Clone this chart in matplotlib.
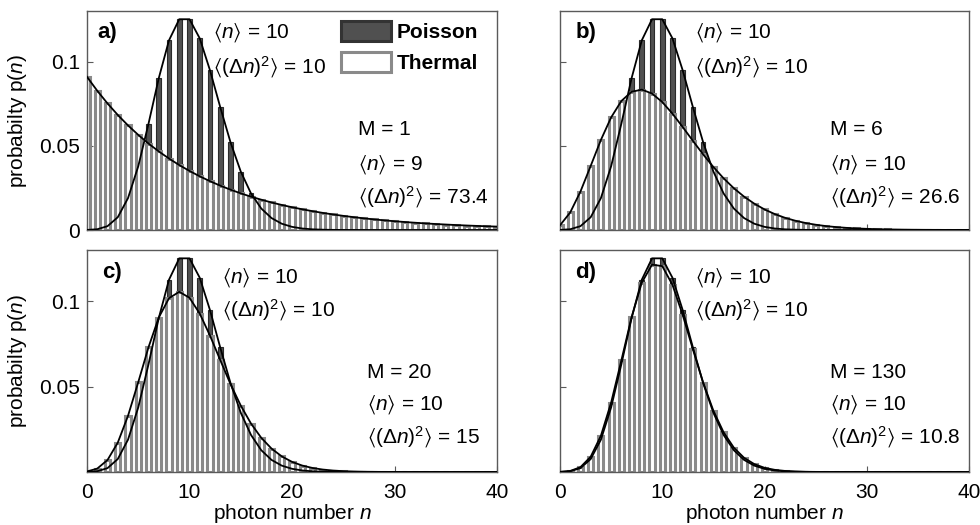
import numpy as np
import matplotlib
matplotlib.use("Agg")
import matplotlib.pyplot as plt
from matplotlib.patches import Patch

plt.rcParams["font.family"] = ["Liberation Sans", "DejaVu Sans"]
plt.rcParams["mathtext.fontset"] = "custom"
plt.rcParams["mathtext.rm"] = "Liberation Sans"
plt.rcParams["mathtext.it"] = "Liberation Sans:italic"
plt.rcParams["mathtext.fallback"] = "stixsans"

n = np.arange(41)

# Poisson, <n> = 10
poisson = [0.00005, 0.00045, 0.00227, 0.00757, 0.01892, 0.03783, 0.06306, 0.09008,
           0.11260, 0.12511, 0.12511, 0.11374, 0.09478, 0.07291, 0.05208, 0.03472,
           0.02170, 0.01276, 0.00709, 0.00373, 0.00187, 0.00089, 0.00040, 0.00018,
           0.00007, 0.00003, 0.00001, 0, 0, 0, 0, 0, 0, 0, 0, 0, 0, 0, 0, 0, 0]

# thermal, M = 1
thermal_m1 = [0.09091, 0.08265, 0.07513, 0.06830, 0.06209, 0.05645, 0.05132, 0.04665,
              0.04241, 0.03855, 0.03505, 0.03186, 0.02897, 0.02633, 0.02394, 0.02176,
              0.01978, 0.01799, 0.01635, 0.01486, 0.01351, 0.01229, 0.01117, 0.01015,
              0.00923, 0.00839, 0.00763, 0.00693, 0.00630, 0.00573, 0.00521, 0.00474,
              0.00431, 0.00391, 0.00356, 0.00324, 0.00294, 0.00267, 0.00243, 0.00221,
              0.00201]

# thermal, M = 6
thermal_m6 = [0.00278, 0.01043, 0.02281, 0.03802, 0.05346, 0.06683, 0.07658, 0.08205,
              0.08333, 0.08101, 0.07595, 0.06905, 0.06113, 0.05290, 0.04487, 0.03740,
              0.03068, 0.02481, 0.01981, 0.01564, 0.01222, 0.00946, 0.00725, 0.00552,
              0.00417, 0.00313, 0.00233, 0.00173, 0.00127, 0.00093, 0.00068, 0.00049,
              0.00036, 0.00026, 0.00018, 0.00013, 0.00009, 0.00007, 0.00005, 0.00003,
              0.00002]

# thermal, M = 20
thermal_m20 = [0.00030, 0.00200, 0.00702, 0.01715, 0.03288, 0.05260, 0.07306, 0.09045,
               0.10176, 0.10553, 0.10201, 0.09274, 0.07986, 0.06552, 0.05148, 0.03890,
               0.02836, 0.02002, 0.01372, 0.00915, 0.00594, 0.00377, 0.00235, 0.00143,
               0.00085, 0.00050, 0.00029, 0.00016, 0.00009, 0.00005, 0.00003, 0.00001,
               0.00001, 0, 0, 0, 0, 0, 0, 0, 0]

# thermal, M = 130
thermal_m130 = [0.00007, 0.00061, 0.00284, 0.00894, 0.02123, 0.04064, 0.06531, 0.09064,
                0.11087, 0.12143, 0.12056, 0.10960, 0.09199, 0.07177, 0.05236, 0.03591,
                0.02324, 0.01426, 0.00832, 0.00463, 0.00246, 0.00126, 0.00062, 0.00029,
                0.00013, 0.00006, 0.00002, 0.00001, 0, 0, 0, 0, 0, 0, 0, 0, 0, 0, 0, 0, 0]

panels = [
    ("a)", thermal_m1, "M = 1", "9", "73.4"),
    ("b)", thermal_m6, "M = 6", "10", "26.6"),
    ("c)", thermal_m20, "M = 20", "10", "15"),
    ("d)", thermal_m130, "M = 130", "10", "10.8"),
]

POIS_FACE = "#505050"
POIS_EDGE = "#2a2a2a"
TH_EDGE = "#8a8a8a"
FRAME = "#5a5a5a"
FS = 15

MEAN = "$\\langle n\\rangle$ = "
VAR = "$\\langle(\\Delta n)^{2}\\rangle$ = "

fig = plt.figure(figsize=(9.8, 5.25), dpi=100)
W, H = 980.0, 525.0
boxes = [(87, 11, 497, 230), (560, 11, 969, 230),
         (87, 250, 497, 472), (560, 250, 969, 472)]

for i, (label, thermal, mtxt, mean_txt, var_txt) in enumerate(panels):
    x0, y0, x1, y1 = boxes[i]
    ax = fig.add_axes([x0 / W, 1 - y1 / H, (x1 - x0) / W, (y1 - y0) / H])

    ax.bar(n, poisson, width=0.45, color=POIS_FACE, edgecolor=POIS_EDGE, linewidth=0.8, zorder=1)
    ax.bar(n, thermal, width=0.5, color="white", edgecolor=TH_EDGE, linewidth=2.2, zorder=2)
    ax.plot(n, poisson, color="black", lw=1.3, zorder=3)
    ax.plot(n, thermal, color="black", lw=1.3, zorder=3)

    ax.set_xlim(0, 40)
    ax.set_ylim(0, 0.13)
    ax.tick_params(direction="in", labelsize=FS, color=FRAME, length=4, pad=5)
    ax.tick_params(axis="x", pad=8)
    for s in ax.spines.values():
        s.set_color(FRAME)
        s.set_linewidth(1.0)

    ax.set_xticks([0, 10, 20, 30, 40])
    if i < 2:
        ax.set_xticklabels([])
    else:
        ax.set_xlabel(r"photon number $n$", fontsize=FS, labelpad=0)
    if i % 2 == 0:
        if i == 0:
            ax.set_yticks([0, 0.05, 0.1])
            ax.set_yticklabels(["0", "0.05", "0.1"])
        else:
            ax.set_yticks([0.05, 0.1])
            ax.set_yticklabels(["0.05", "0.1"])
        ax.set_ylabel(r"probabilty p($n$)", fontsize=FS, labelpad=7)
    else:
        ax.set_yticks([0.05, 0.1])
        ax.set_yticklabels([])

    lx = 0.025 if i == 0 else 0.037
    ax.text(lx, 0.90, label, transform=ax.transAxes, fontsize=16,
            fontweight="bold", va="center")
    tx = 0.308 if i == 0 else 0.33
    top_y = (0.90, 0.745) if i < 2 else (0.874, 0.73)
    ax.text(tx, top_y[0], MEAN + "10", transform=ax.transAxes,
            fontsize=FS, va="center")
    ax.text(tx, top_y[1], VAR + "10", transform=ax.transAxes,
            fontsize=FS, va="center")

    mx = 0.683 if i == 2 else 0.66
    my = (0.457, 0.297, 0.151) if i < 2 else (0.446, 0.306, 0.158)
    ax.text(mx, my[0], mtxt, transform=ax.transAxes, fontsize=FS, va="center")
    ax.text(mx, my[1], MEAN + mean_txt, transform=ax.transAxes,
            fontsize=FS, va="center")
    ax.text(mx, my[2], VAR + var_txt, transform=ax.transAxes,
            fontsize=FS, va="center")

    if i == 0:
        handles = [Patch(facecolor=POIS_FACE, edgecolor="#333333", linewidth=2.2, label="Poisson"),
                   Patch(facecolor="white", edgecolor=TH_EDGE, linewidth=2.2, label="Thermal")]
        ax.legend(handles=handles, loc="upper left", bbox_to_anchor=(0.595, 1.0),
                  frameon=False, prop={"weight": "bold", "size": FS},
                  handlelength=2.4, handleheight=1.1, handletextpad=0.25,
                  labelspacing=0.45, borderaxespad=0.3, borderpad=0.2)

fig.savefig("out.png", dpi=100)
